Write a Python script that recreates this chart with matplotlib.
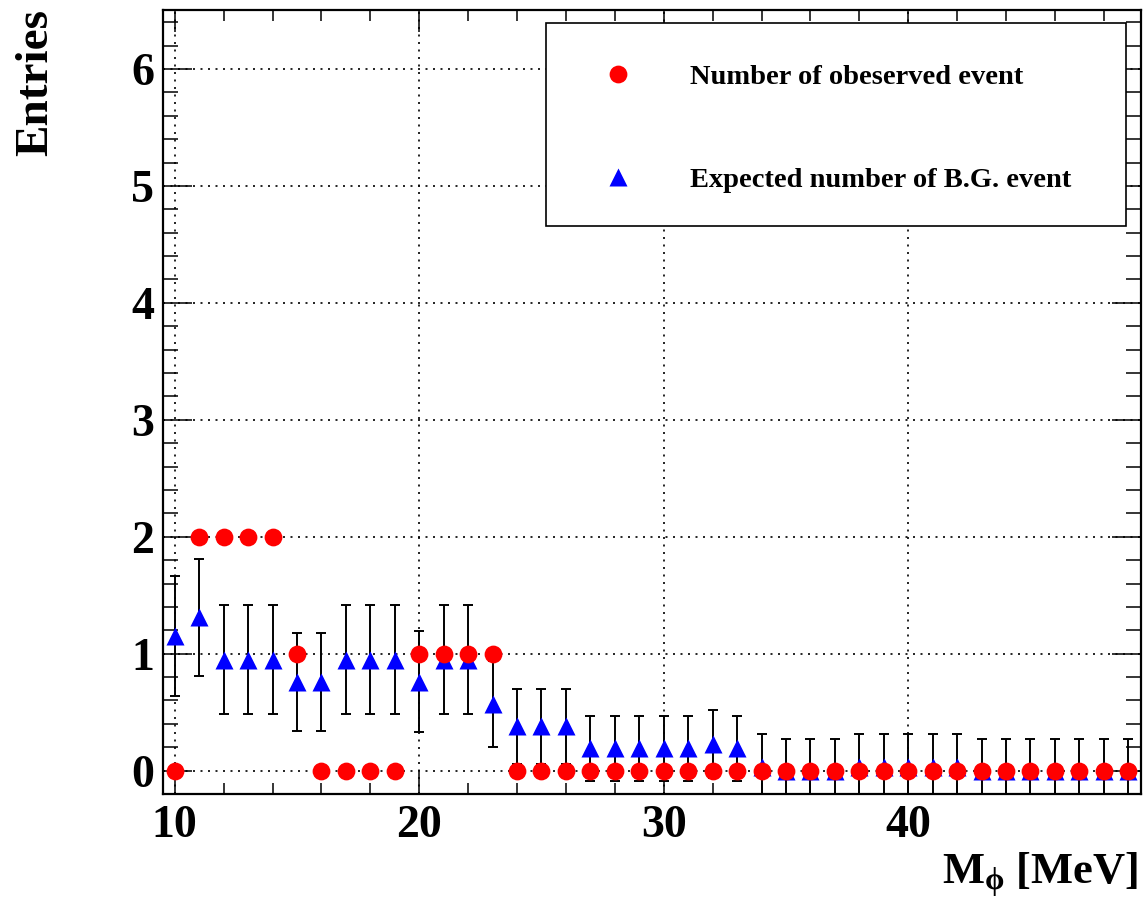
import matplotlib
matplotlib.use('Agg')
import matplotlib.pyplot as plt
from matplotlib.patches import Rectangle
import numpy as np

# bin centres [MeV]
mass = list(range(10, 50))
# observed events
observed = [0, 2, 2, 2, 2, 1, 0, 0, 0, 0,
            1, 1, 1, 1, 0, 0, 0, 0, 0, 0,
            0, 0, 0, 0, 0, 0, 0, 0, 0, 0,
            0, 0, 0, 0, 0, 0, 0, 0, 0, 0]
# expected background and its error
expected = [1.15, 1.31, 0.95, 0.95, 0.95, 0.76, 0.76, 0.95, 0.95, 0.95,
            0.76, 0.95, 0.95, 0.57, 0.38, 0.38, 0.38, 0.19, 0.19, 0.19,
            0.19, 0.19, 0.23, 0.19, 0.03, 0.0, 0.0, 0.0, 0.03, 0.03,
            0.03, 0.03, 0.03, 0.0, 0.0, 0.0, 0.0, 0.0, 0.0, 0.0]
exp_err = [0.51, 0.50, 0.47, 0.47, 0.47, 0.42, 0.42, 0.47, 0.47, 0.47,
           0.43, 0.47, 0.47, 0.37, 0.32, 0.32, 0.32, 0.28, 0.28, 0.28,
           0.28, 0.28, 0.29, 0.28, 0.28, 0.27, 0.27, 0.27, 0.28, 0.28,
           0.28, 0.28, 0.28, 0.27, 0.27, 0.27, 0.27, 0.27, 0.27, 0.27]

plt.rcParams['font.family'] = ['Liberation Serif', 'DejaVu Serif']
plt.rcParams['font.weight'] = 'bold'
plt.rcParams['mathtext.fontset'] = 'custom'
plt.rcParams['mathtext.rm'] = 'Liberation Serif:bold'
plt.rcParams['mathtext.it'] = 'Liberation Serif:bold'

W, H = 1144, 901
fig = plt.figure(figsize=(W / 100, H / 100), dpi=100)
# axes frame in pixels: left 162.5, right 1140.5, top 10.5, bottom 794
x0, x1, y0, y1 = 162.5, 1140.5, 10.5, 794
ax = fig.add_axes([x0 / W, 1 - y1 / H, (x1 - x0) / W, (y1 - y0) / H])

ax.set_xlim(9.5, 49.5)
ax.set_ylim(-0.2, 6.5)

ax.errorbar(mass, expected, yerr=exp_err, fmt='none', ecolor='k',
            elinewidth=1.4, capsize=3.6, capthick=1.4, zorder=3)
ax.plot(mass, expected, '^', color='#0000ff', ms=13.3, mec='none',
        ls='none', zorder=4, label='Expected number of B.G. event')
ax.plot(mass, observed, 'o', color='#ff0000', ms=12.8, mec='none',
        ls='none', zorder=5, label='Number of obeserved event')

ax.set_xticks([10, 20, 30, 40])
ax.set_xticks(np.arange(10, 50, 2), minor=True)
ax.set_yticks(range(0, 7))
ax.set_yticks(np.arange(-0.2, 6.5, 0.2), minor=True)
ax.tick_params(axis='both', which='both', direction='in', top=True, right=True,
               width=1.1, labelsize=33, colors='k')
ax.tick_params(axis='y', which='major', length=21, pad=6)
ax.tick_params(axis='y', which='minor', length=10.5)
ax.tick_params(axis='x', which='major', length=16, pad=8)
ax.tick_params(axis='x', which='minor', length=8)
for s in ax.spines.values():
    s.set_linewidth(1.6)

ax.grid(True, which='major', color='k', ls=(0, (1.2, 3.3)), lw=1.2)

# legend
hs, ls = ax.get_legend_handles_labels()
order = [1, 0]
leg = ax.legend([hs[i] for i in order], [ls[i] for i in order],
                loc='upper left', frameon=False, fontsize=20.5,
                bbox_to_anchor=((602 - x0) / (x1 - x0), (y1 - 64) / (y1 - y0)),
                borderaxespad=0, borderpad=0, handlelength=1.15,
                handletextpad=1.95, labelspacing=2.72, numpoints=1)
ax.add_patch(Rectangle(((546 - x0) / (x1 - x0), (y1 - 226) / (y1 - y0)),
                       (1126 - 546) / (x1 - x0), (226 - 23) / (y1 - y0),
                       transform=ax.transAxes, fill=True, fc='white', ec='k',
                       lw=1.2, zorder=6))
leg.set_zorder(7)

fig.text(36 / W, 1 - 9 / H, 'Entries', rotation=90, ha='center', va='top',
         fontsize=34)
fig.text(1138 / W, 1 - 884 / H, r'M$_{\mathrm{\phi}}$ [MeV]', ha='right',
         va='baseline', fontsize=32)

fig.savefig('out.png', dpi=100)
